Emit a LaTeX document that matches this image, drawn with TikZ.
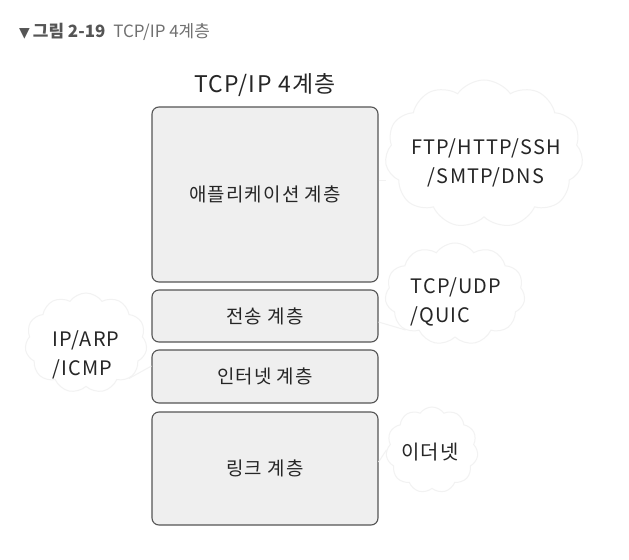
\documentclass[tikz,border=0pt]{standalone}
\usepackage{fontspec}
\setmainfont{Noto Sans CJK KR}
\newfontfamily\symfont{DejaVu Sans}
\newfontfamily\handfont[LetterSpace=6]{Noto Sans CJK KR}
\usetikzlibrary{shapes.symbols}
\definecolor{boxfill}{HTML}{EFEFEF}
\definecolor{boxline}{HTML}{555555}
\definecolor{cloudline}{HTML}{F2F2F2}
\definecolor{capdark}{HTML}{555555}
\definecolor{capgray}{HTML}{707070}
\tikzset{
  layer/.style={draw=boxline, fill=boxfill, line width=1.1pt, rounded corners=7bp, minimum width=226bp, inner sep=0pt},
  bubble/.style={cloud, cloud puffs=11, cloud puff arc=110, draw=cloudline, line width=1pt, fill=white, inner sep=0pt},
  tail/.style={draw=cloudline, line width=1pt},
  ltxt/.style={font=\handfont\fontsize{19}{22}\selectfont, text=black!85},
  ptxt/.style={font=\handfont\fontsize{20}{29}\selectfont, text=black!85}
}
\begin{document}
\begin{tikzpicture}[x=1bp,y=-1bp]
\useasboundingbox[fill=white] (0,0) rectangle (629,560);
% caption
\node[anchor=west, inner sep=0pt, text=capdark] (cap) at (19,32)
  {{\symfont\fontsize{14}{16}\selectfont ▼}\hspace{3bp}{\fontsize{17}{20}\selectfont\bfseries 그림 2-19}\hspace{8bp}{\fontsize{17}{20}\selectfont\color{capgray}TCP/IP 4계층}};
% clouds
\node[bubble, minimum width=198bp, minimum height=148bp] (c1) at (484,154) {};
\node[bubble, minimum width=140bp, minimum height=102bp] (c2) at (455,294) {};
\node[bubble, minimum width=122bp, minimum height=100bp] (c3) at (86,343) {};
\node[bubble, minimum width=92bp, minimum height=86bp] (c4) at (432,450) {};
% title
\node[font=\handfont\fontsize{23}{26}\selectfont, text=black!85] (title) at (265,85) {TCP/IP 4계층};
% layers
\node[layer, minimum height=175bp] (app) at (265,194.5) {};
\node[layer, minimum height=52bp] (tr) at (265,316) {};
\node[layer, minimum height=53bp] (net) at (265,376.5) {};
\node[layer, minimum height=113bp] (link) at (265,468.5) {};
% tails
\coordinate (t1) at (app.east |- 0,180);
\coordinate (t2) at (tr.east |- 0,322);
\coordinate (t3) at (net.west |- 0,366);
\coordinate (t4) at (link.east |- 0,462);
\draw[tail] (t1) -- (c1.west |- t1);
\draw[tail] (t2) -- (c2.south west);
\draw[tail] (t3) -- (c3.south east);
\draw[tail] (t4) -- (c4.west);
% layer labels
\node[ltxt] (appl) at (app) {애플리케이션 계층};
\node[ltxt] (trl) at (tr) {전송 계층};
\node[ltxt] (netl) at (net) {인터넷 계층};
\node[ltxt] (linkl) at (link) {링크 계층};
% protocol labels
\node[ptxt, align=center] (p1) at (486,163) {FTP/HTTP/SSH\\/SMTP/DNS};
\node[ptxt, align=left, anchor=west] (p2) at (407,302) {TCP/UDP\\/QUIC};
\node[ptxt, align=left, anchor=west] (p3) at (49,355) {IP/ARP\\/ICMP};
\node[ptxt] (p4) at (430,452) {이더넷};
\end{tikzpicture}
\end{document}
